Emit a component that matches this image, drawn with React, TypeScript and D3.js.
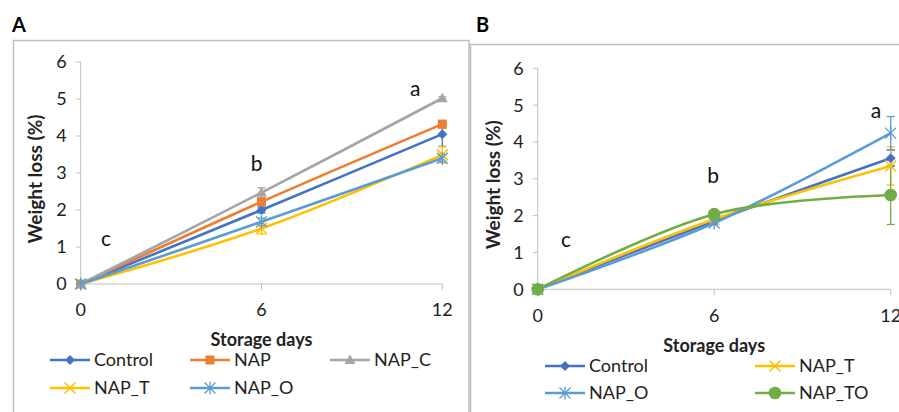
import React from 'react';
import * as d3 from 'd3';

// storage days and axis ticks
const days = [0, 6, 12];
const yTicks = [0, 1, 2, 3, 4, 5, 6];
const letters = ['c', 'b', 'a'];

// panel A - weight loss (%)
const controlA = [0, 2.0, 4.05];
const napA = [0, 2.22, 4.32];
const napCA = [0, 2.47, 5.02];
const napTA = [0, 1.5, 3.49];
const napOA = [0, 1.68, 3.4];
const controlErrA = [0, 0.08, 0.33];
const napErrA = [0, 0.06, 0.1];
const napCErrA = [0, 0.13, 0.04];
const napTErrA = [0, 0.15, 0.22];
const napOErrA = [0, 0.1, 0.1];
// letter anchors (day, value) for panel A
const letterDaysA = [0.84, 5.84, 11.1];
const letterValsA = [1.19, 3.22, 5.24];

// panel B - weight loss (%)
const controlB = [0, 1.85, 3.56];
const napTB = [0, 1.9, 3.35];
const napOB = [0, 1.8, 4.24];
const napTOB = [0, 2.04, 2.56];
const controlErrB = [0, 0.05, 0.22];
const napTErrB = [0, 0.05, 0.52];
const napOErrB = [0, 0.05, 0.45];
const napTOErrB = [0, 0.06, 0.8];
const letterDaysB = [0.96, 5.96, 11.5];
const letterValsB = [1.31, 3.05, 4.82];

const COLORS: any = {
  Control: '#4472C4',
  NAP: '#ED7D31',
  NAP_C: '#A5A5A5',
  NAP_T: '#FFC000',
  NAP_O: '#5B9BD5',
  NAP_TO: '#70AD47',
};
const MARKERS: any = {
  Control: 'diamond',
  NAP: 'square',
  NAP_C: 'triangle',
  NAP_T: 'x',
  NAP_O: 'star',
  NAP_TO: 'circle',
};

const FONT = 'Lato, "Open Sans", sans-serif';

function Marker({kind, x, y, color}: any) {
  if (kind === 'diamond') {
    const r = 5;
    return <path d={`M${x},${y - r}L${x + r},${y}L${x},${y + r}L${x - r},${y}Z`} fill={color} />;
  }
  if (kind === 'square') {
    return <rect x={x - 4.5} y={y - 4.5} width={9} height={9} fill={color} />;
  }
  if (kind === 'triangle') {
    return <path d={`M${x},${y - 5.5}L${x + 5.5},${y + 4}L${x - 5.5},${y + 4}Z`} fill={color} />;
  }
  if (kind === 'x') {
    const r = 5.5;
    return (
      <path d={`M${x - r},${y - r}L${x + r},${y + r}M${x - r},${y + r}L${x + r},${y - r}`} stroke={color} strokeWidth={1.5} />
    );
  }
  if (kind === 'star') {
    const r = 5.5;
    return (
      <path
        d={`M${x - r},${y - r}L${x + r},${y + r}M${x - r},${y + r}L${x + r},${y - r}M${x},${y - r - 1}L${x},${y + r + 1}`}
        stroke={color}
        strokeWidth={1.3}
      />
    );
  }
  return <circle cx={x} cy={y} r={6.3} fill={color} />;
}

function Panel({cfg}: any) {
  const x = d3.scaleLinear().domain([0, 12]).range(cfg.xRange);
  const y = d3.scaleLinear().domain([0, 6]).range(cfg.yRange);
  const line = d3
    .line<number>()
    .x((d, i) => x(days[i]))
    .y(d => y(d))
    .curve(d3.curveCardinal.tension(0));
  const [x0] = cfg.xRange;
  const [y0] = cfg.yRange;

  return (
    <g>
      <text x={cfg.labelX} y={cfg.labelY} fontFamily={FONT} fontWeight="bold" fontSize={20}>
        {cfg.label}
      </text>
      <rect x={cfg.frame[0]} y={cfg.frame[1]} width={cfg.frame[2]} height={cfg.frame[3]} fill="none" stroke="#bfbfbf" strokeWidth={1.5} />

      {/* axes */}
      <line x1={x0} x2={x0} y1={y(6)} y2={y0} stroke="#bfbfbf" />
      <line x1={x0} x2={x(12)} y1={y0} y2={y0} stroke="#bfbfbf" />
      {yTicks.map(t => (
        <g key={'y' + t}>
          <line x1={x0 - 5} x2={x0} y1={y(t)} y2={y(t)} stroke="#bfbfbf" />
          <text x={x0 - 14} y={y(t)} dy="0.36em" textAnchor="end" fontFamily={FONT} fontSize={18} fill="#222">
            {t}
          </text>
        </g>
      ))}
      {days.map(t => (
        <g key={'x' + t}>
          <line x1={x(t)} x2={x(t)} y1={y0} y2={y0 + 6} stroke="#bfbfbf" />
          <text x={x(t)} y={y0 + 26} dy="0.36em" textAnchor="middle" fontFamily={FONT} fontSize={18} fill="#222">
            {t}
          </text>
        </g>
      ))}
      <text
        x={(x0 + x(12)) / 2}
        y={y0 + 56}
        dy="0.36em"
        textAnchor="middle"
        fontFamily={FONT}
        fontWeight="bold"
        fontSize={18}
        fill="#222"
      >
        Storage days
      </text>
      <text
        transform={`translate(${cfg.yTitleX},${(y(0) + y(6)) / 2 + 6}) rotate(-90)`}
        dy="0.36em"
        textAnchor="middle"
        fontFamily={FONT}
        fontWeight="bold"
        fontSize={19}
        fill="#222"
      >
        Weight loss (%)
      </text>

      {/* error bars */}
      {cfg.series.map((s: any) =>
        s.values.map((v: number, i: number) =>
          s.err[i] > 0 ? (
            <g key={s.name + 'e' + i} stroke={COLORS[s.name]} strokeWidth={1.3}>
              <line x1={x(days[i])} x2={x(days[i])} y1={y(v - s.err[i])} y2={y(v + s.err[i])} />
              <line x1={x(days[i]) - 4} x2={x(days[i]) + 4} y1={y(v - s.err[i])} y2={y(v - s.err[i])} />
              <line x1={x(days[i]) - 4} x2={x(days[i]) + 4} y1={y(v + s.err[i])} y2={y(v + s.err[i])} />
            </g>
          ) : null
        )
      )}

      {/* lines and markers */}
      {cfg.series.map((s: any) => (
        <g key={s.name}>
          <path d={line(s.values) || ''} fill="none" stroke={COLORS[s.name]} strokeWidth={2.6} />
          {s.values.map((v: number, i: number) => (
            <Marker key={i} kind={MARKERS[s.name]} x={x(days[i])} y={y(v)} color={COLORS[s.name]} />
          ))}
        </g>
      ))}

      {/* significance letters */}
      {letters.map((l, i) => (
        <text
          key={l}
          x={x(cfg.letterDays[i])}
          y={y(cfg.letterVals[i])}
          dy="0.3em"
          textAnchor="middle"
          fontFamily={FONT}
          fontSize={21}
          fill="#111"
        >
          {l}
        </text>
      ))}

      {/* legend */}
      {cfg.series.map((s: any, i: number) => {
        const col = i % cfg.legendCols.length;
        const row = Math.floor(i / cfg.legendCols.length);
        const lx = cfg.legendCols[col];
        const ly = cfg.legendRows[row];
        return (
          <g key={'lg' + s.name}>
            <line x1={lx} x2={lx + 40} y1={ly} y2={ly} stroke={COLORS[s.name]} strokeWidth={2.6} />
            <Marker kind={MARKERS[s.name]} x={lx + 20} y={ly} color={COLORS[s.name]} />
            <text x={lx + 44} y={ly} dy="0.36em" fontFamily={FONT} fontSize={18} fill="#222">
              {s.name}
            </text>
          </g>
        );
      })}
    </g>
  );
}

const panelA = {
  label: 'A',
  labelX: 12,
  labelY: 32,
  frame: [13.5, 40.5, 455.5, 420],
  xRange: [80.7, 442.3],
  yRange: [284, 62],
  yTitleX: 35,
  letterDays: letterDaysA,
  letterVals: letterValsA,
  legendCols: [50, 190, 330],
  legendRows: [360, 388],
  series: [
    {name: 'Control', values: controlA, err: controlErrA},
    {name: 'NAP', values: napA, err: napErrA},
    {name: 'NAP_C', values: napCA, err: napCErrA},
    {name: 'NAP_T', values: napTA, err: napTErrA},
    {name: 'NAP_O', values: napOA, err: napOErrA},
  ],
};

const panelB = {
  label: 'B',
  labelX: 476,
  labelY: 32,
  frame: [470.5, 44.5, 460, 420],
  xRange: [537.7, 890.7],
  yRange: [289.3, 68.3],
  yTitleX: 493,
  letterDays: letterDaysB,
  letterVals: letterValsB,
  legendCols: [545, 755],
  legendRows: [366, 393],
  series: [
    {name: 'Control', values: controlB, err: controlErrB},
    {name: 'NAP_T', values: napTB, err: napTErrB},
    {name: 'NAP_O', values: napOB, err: napOErrB},
    {name: 'NAP_TO', values: napTOB, err: napTOErrB},
  ],
};

export default function App() {
  return (
    <svg width={899} height={412} style={{position: 'absolute', left: 0, top: 0, background: '#fff'}}>
      <rect width={899} height={412} fill="#fff" />
      <Panel cfg={panelA} />
      <Panel cfg={panelB} />
    </svg>
  );
}
